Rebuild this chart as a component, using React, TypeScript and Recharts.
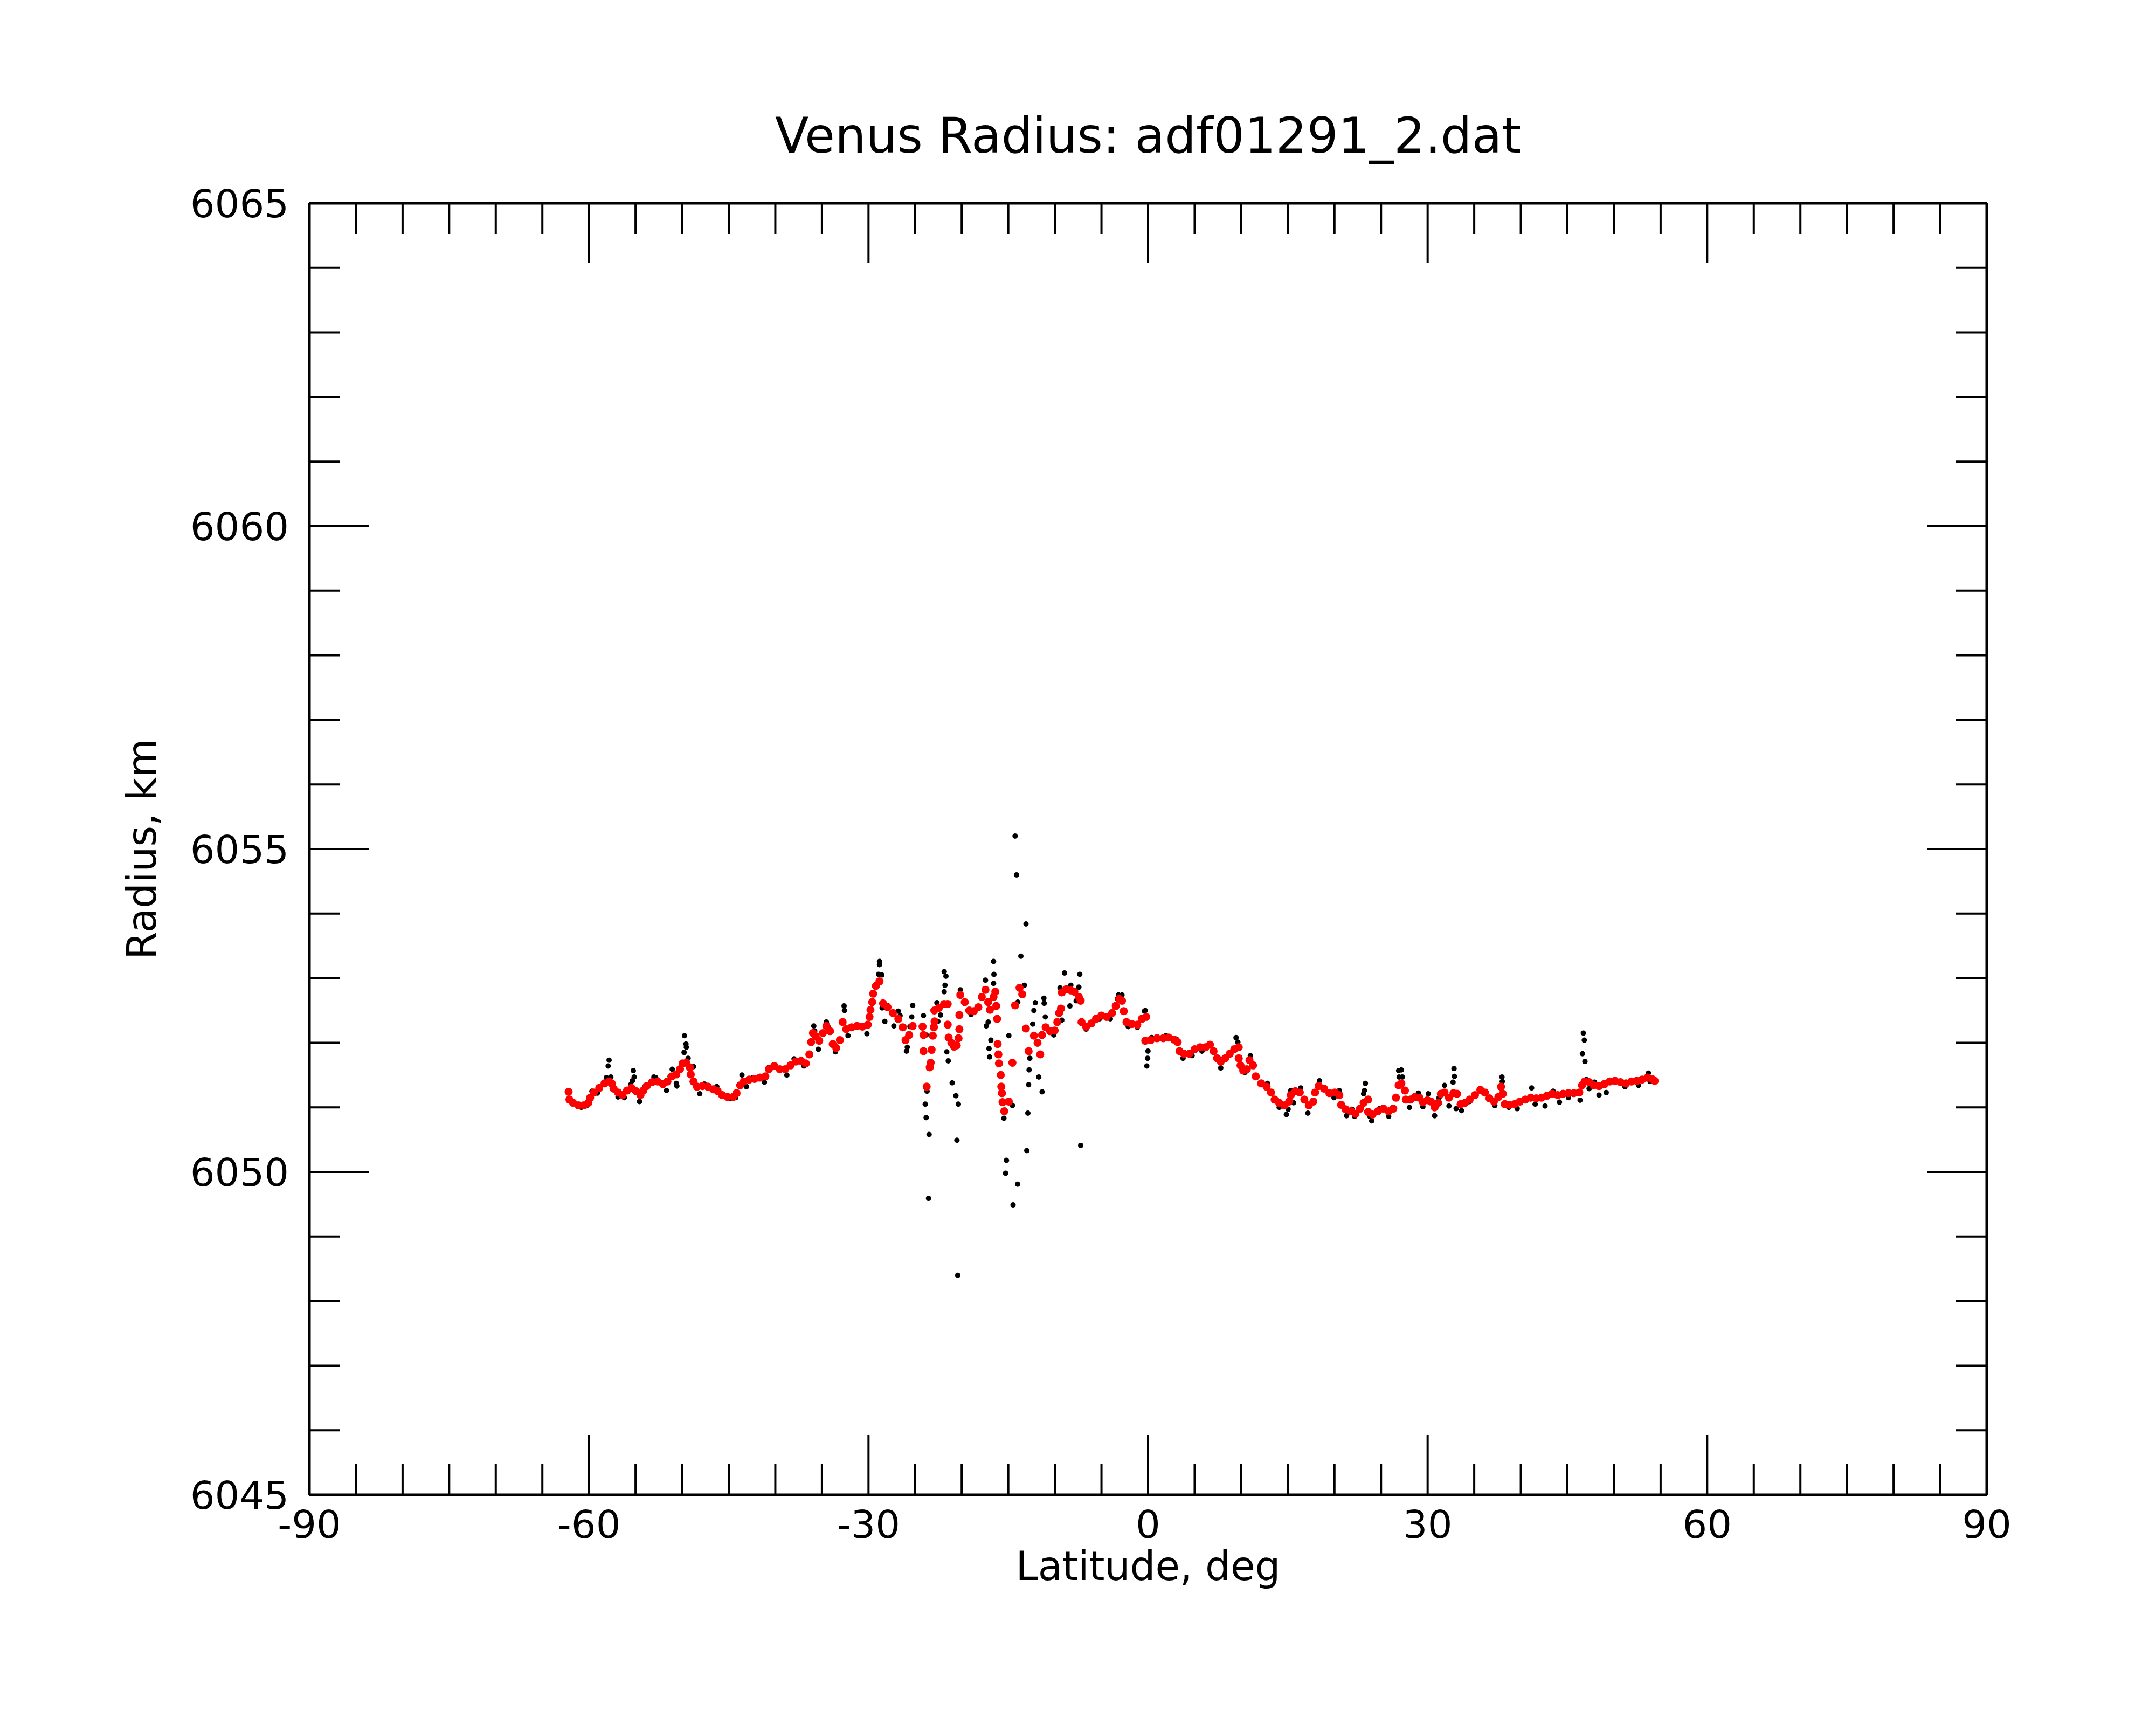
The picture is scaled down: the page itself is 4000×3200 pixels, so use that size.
import React from 'react';
import { ScatterChart, Scatter, XAxis, YAxis } from 'recharts';

// tick positions (every 5 deg / every 1 km; labels only on the majors)
const latTicks = [-90, -85, -80, -75, -70, -65, -60, -55, -50, -45, -40, -35, -30, -25, -20, -15, -10, -5, 0, 5, 10, 15, 20, 25, 30, 35, 40, 45, 50, 55, 60, 65, 70, 75, 80, 85, 90];
const radiusTicks = [6045, 6046, 6047, 6048, 6049, 6050, 6051, 6052, 6053, 6054, 6055, 6056, 6057, 6058, 6059, 6060, 6061, 6062, 6063, 6064, 6065];

// smoothed radius profile, [latitude, radius km]
const redProfile: [number, number][] = [
    [-62.18, 6051.24], [-62.09, 6051.12], [-61.7, 6051.07], [-61.12, 6051.03], [-60.54, 6051.03], [-60.06, 6051.07],
    [-59.87, 6051.15], [-59.48, 6051.23], [-58.9, 6051.3], [-58.33, 6051.37], [-57.84, 6051.4], [-57.56, 6051.37],
    [-57.36, 6051.29], [-56.88, 6051.23], [-56.4, 6051.19], [-55.92, 6051.26], [-55.43, 6051.3], [-54.95, 6051.25],
    [-54.47, 6051.19], [-54.18, 6051.26], [-53.8, 6051.33], [-53.22, 6051.39], [-52.64, 6051.4], [-52.06, 6051.36],
    [-51.58, 6051.4], [-51.1, 6051.48], [-50.62, 6051.51], [-50.23, 6051.59], [-49.94, 6051.68], [-49.55, 6051.69],
    [-49.17, 6051.62], [-49.07, 6051.51], [-48.78, 6051.4], [-48.4, 6051.32], [-47.82, 6051.33], [-47.24, 6051.32],
    [-46.66, 6051.28], [-46.18, 6051.25], [-45.7, 6051.19], [-45.12, 6051.16], [-44.54, 6051.16], [-44.16, 6051.22],
    [-43.77, 6051.34], [-43.39, 6051.4], [-42.81, 6051.43], [-42.23, 6051.44], [-41.65, 6051.46], [-41.07, 6051.48],
    [-40.69, 6051.59], [-40.11, 6051.64], [-39.53, 6051.59], [-38.95, 6051.59], [-38.37, 6051.65], [-37.8, 6051.71],
    [-37.22, 6051.72], [-36.73, 6051.68], [-36.35, 6051.82], [-36.16, 6052.01], [-35.96, 6052.15], [-35.67, 6052.1],
    [-35.29, 6052.03], [-34.9, 6052.15], [-34.52, 6052.26], [-34.13, 6052.18], [-33.84, 6051.98], [-33.46, 6051.92],
    [-33.07, 6052.04], [-32.78, 6052.32], [-32.39, 6052.21], [-31.81, 6052.24], [-31.23, 6052.26], [-30.66, 6052.25],
    [-30.08, 6052.28], [-29.89, 6052.4], [-29.79, 6052.51], [-29.6, 6052.63], [-29.5, 6052.76], [-29.21, 6052.88],
    [-28.82, 6052.95], [-28.44, 6052.61], [-27.96, 6052.55], [-27.38, 6052.46], [-26.8, 6052.37], [-26.32, 6052.24],
    [-26.03, 6052.04], [-25.64, 6052.12], [-25.26, 6052.26], [-24.2, 6052.25], [-24.1, 6052.12], [-24.1, 6051.87],
    [-23.76, 6051.32], [-23.43, 6051.62], [-23.33, 6051.69], [-23.23, 6051.89], [-23.1, 6052.11], [-22.98, 6052.24],
    [-22.91, 6052.33], [-22.94, 6052.5], [-22.46, 6052.54], [-21.89, 6052.6], [-21.5, 6052.6], [-21.5, 6052.28],
    [-21.4, 6052.08], [-21.11, 6052.0], [-20.82, 6051.94], [-20.53, 6051.96], [-20.34, 6052.07], [-20.25, 6052.21],
    [-20.25, 6052.43], [-20.15, 6052.74], [-19.67, 6052.63], [-19.19, 6052.5], [-18.7, 6052.49], [-18.22, 6052.55],
    [-17.84, 6052.71], [-17.45, 6052.82], [-17.16, 6052.63], [-16.97, 6052.51], [-16.58, 6052.71], [-16.39, 6052.79],
    [-16.29, 6052.57], [-16.2, 6052.37], [-16.14, 6051.98], [-16.06, 6051.82], [-16.0, 6051.68], [-15.81, 6051.5],
    [-15.75, 6051.32], [-15.68, 6051.22], [-15.62, 6051.08], [-15.43, 6050.94], [-14.94, 6051.09], [-14.56, 6051.69],
    [-14.27, 6052.58], [-13.79, 6052.85], [-13.5, 6052.75], [-13.11, 6052.22], [-12.82, 6051.87], [-12.25, 6052.11],
    [-11.86, 6052.0], [-11.57, 6051.82], [-11.38, 6052.12], [-10.99, 6052.24], [-10.51, 6052.18], [-10.03, 6052.19],
    [-9.74, 6052.32], [-9.55, 6052.46], [-9.35, 6052.53], [-9.26, 6052.78], [-8.78, 6052.83], [-8.29, 6052.81],
    [-7.91, 6052.79], [-7.43, 6052.71], [-7.23, 6052.65], [-7.14, 6052.32], [-6.65, 6052.25], [-6.08, 6052.3],
    [-5.59, 6052.37], [-5.01, 6052.42], [-4.44, 6052.4], [-3.86, 6052.46], [-3.47, 6052.57], [-3.09, 6052.68],
    [-2.8, 6052.65], [-2.61, 6052.49], [-2.32, 6052.32], [-1.74, 6052.29], [-1.16, 6052.28], [-0.68, 6052.37],
    [-0.2, 6052.4], [-0.3, 6052.03], [0.28, 6052.04], [0.96, 6052.07], [1.63, 6052.07], [2.21, 6052.08],
    [2.79, 6052.05], [3.17, 6052.01], [3.37, 6051.87], [3.85, 6051.83], [4.43, 6051.83], [5.0, 6051.9],
    [5.58, 6051.93], [6.16, 6051.93], [6.64, 6051.97], [7.03, 6051.87], [7.41, 6051.76], [7.8, 6051.71],
    [8.28, 6051.76], [8.76, 6051.83], [9.25, 6051.9], [9.73, 6051.93], [9.73, 6051.76], [9.92, 6051.65],
    [10.21, 6051.57], [10.6, 6051.59], [10.88, 6051.73], [11.27, 6051.65], [11.56, 6051.48], [12.14, 6051.37],
    [12.72, 6051.32], [13.2, 6051.23], [13.58, 6051.12], [14.07, 6051.07], [14.64, 6051.03], [15.13, 6051.09],
    [15.32, 6051.19], [15.8, 6051.25], [16.28, 6051.23], [16.77, 6051.12], [17.25, 6051.03], [17.73, 6051.09],
    [17.92, 6051.23], [18.31, 6051.33], [18.89, 6051.29], [19.46, 6051.22], [20.04, 6051.23], [20.52, 6051.19],
    [20.72, 6051.04], [21.2, 6050.97], [21.78, 6050.94], [22.26, 6050.9], [22.74, 6050.98], [23.13, 6051.07],
    [23.61, 6051.12], [23.61, 6050.93], [24.09, 6050.89], [24.67, 6050.94], [25.25, 6050.98], [25.82, 6050.94],
    [26.31, 6050.98], [26.6, 6051.15], [26.89, 6051.34], [27.18, 6051.37], [27.57, 6051.26], [27.66, 6051.12],
    [28.14, 6051.12], [28.63, 6051.16], [29.11, 6051.15], [29.49, 6051.08], [29.98, 6051.11], [30.36, 6051.09],
    [30.75, 6051.0], [31.13, 6051.07], [31.42, 6051.21], [31.81, 6051.23], [32.29, 6051.15], [32.77, 6051.22],
    [33.16, 6051.21], [33.54, 6051.05], [34.02, 6051.07], [34.51, 6051.12], [35.08, 6051.19], [35.66, 6051.27],
    [36.14, 6051.23], [36.63, 6051.14], [37.11, 6051.09], [37.59, 6051.16], [37.88, 6051.32], [38.07, 6051.21],
    [38.27, 6051.05], [38.75, 6051.04], [39.33, 6051.05], [39.9, 6051.09], [40.48, 6051.12], [41.06, 6051.15],
    [41.64, 6051.14], [42.22, 6051.15], [42.8, 6051.18], [43.37, 6051.21], [43.95, 6051.19], [44.53, 6051.21],
    [45.11, 6051.22], [45.69, 6051.22], [46.27, 6051.23], [46.56, 6051.34], [46.84, 6051.4], [47.33, 6051.39],
    [47.81, 6051.34], [48.39, 6051.33], [48.97, 6051.36], [49.54, 6051.4], [50.12, 6051.41], [50.7, 6051.39],
    [51.28, 6051.37], [51.86, 6051.4], [52.43, 6051.41], [53.01, 6051.43], [53.59, 6051.46], [54.07, 6051.44],
    [54.36, 6051.41],
];

// raw measurements that stick out from under the red profile
const blackRaw: [number, number][] = [
    [-60.83, 6051.0], [-60.25, 6051.03], [-59.68, 6051.25], [-59.1, 6051.22], [-58.13, 6051.46], [-57.94, 6051.64],
    [-57.84, 6051.73], [-57.65, 6051.47], [-56.88, 6051.16], [-56.21, 6051.15], [-55.53, 6051.35], [-55.34, 6051.41],
    [-55.15, 6051.47], [-55.24, 6051.57], [-54.57, 6051.09], [-53.99, 6051.32], [-53.03, 6051.47], [-52.83, 6051.46],
    [-51.68, 6051.26], [-51.29, 6051.48], [-51.06, 6051.59], [-50.62, 6051.37], [-50.56, 6051.33], [-49.75, 6052.11],
    [-49.59, 6051.98], [-49.55, 6051.93], [-49.79, 6051.85], [-49.36, 6051.76], [-48.78, 6051.63], [-48.11, 6051.21],
    [-47.63, 6051.36], [-46.28, 6051.32], [-45.7, 6051.18], [-44.83, 6051.14], [-44.25, 6051.15], [-43.58, 6051.5],
    [-43.1, 6051.32], [-42.42, 6051.46], [-41.65, 6051.47], [-41.17, 6051.39], [-40.69, 6051.62], [-40.11, 6051.65],
    [-38.76, 6051.5], [-37.99, 6051.75], [-36.93, 6051.64], [-35.87, 6052.26], [-35.77, 6052.18], [-35.38, 6051.9],
    [-34.52, 6052.32], [-34.32, 6052.24], [-33.55, 6051.86], [-32.62, 6052.57], [-32.58, 6052.5], [-32.2, 6052.11],
    [-30.17, 6052.14], [-28.82, 6053.26], [-28.82, 6053.21], [-28.92, 6053.06], [-28.57, 6053.05], [-28.25, 6052.33],
    [-28.54, 6052.54], [-27.96, 6052.58], [-27.28, 6052.26], [-26.8, 6052.49], [-26.61, 6052.42], [-25.93, 6051.87],
    [-25.84, 6051.93], [-25.55, 6052.25], [-25.36, 6052.4], [-25.26, 6052.58], [-24.1, 6052.42], [-23.81, 6052.12],
    [-23.91, 6051.05], [-23.81, 6050.84], [-23.72, 6051.25], [-23.56, 6049.59], [-23.5, 6050.58], [-20.42, 6048.4],
    [-20.51, 6050.49], [-20.36, 6051.05], [-20.62, 6051.18], [-21.02, 6051.38], [-21.88, 6053.1], [-21.69, 6053.03],
    [-21.79, 6052.89], [-21.88, 6052.79], [-22.66, 6052.62], [-22.27, 6052.43], [-22.56, 6052.33], [-21.6, 6051.86],
    [-21.44, 6051.72], [-20.15, 6052.82], [-19.0, 6052.44], [-17.45, 6052.97], [-16.58, 6053.26], [-16.54, 6053.06],
    [-16.58, 6052.92], [-17.16, 6052.32], [-17.36, 6052.26], [-16.87, 6052.04], [-17.07, 6051.91], [-17.01, 6051.78],
    [-15.2, 6050.18], [-15.29, 6049.98], [-14.0, 6049.81], [-14.49, 6049.49], [-13.01, 6050.33], [-12.9, 6050.91],
    [-11.37, 6051.24], [-11.73, 6051.47], [-7.23, 6050.41], [-14.27, 6055.2], [-14.11, 6054.6], [-13.1, 6053.84],
    [-13.65, 6053.34], [-13.27, 6052.89], [-13.98, 6052.63], [-14.94, 6052.11], [-14.56, 6051.03], [-15.47, 6050.83],
    [-12.82, 6051.35], [-12.77, 6051.58], [-12.69, 6051.76], [-12.38, 6052.29], [-12.25, 6052.5], [-12.1, 6052.62],
    [-11.18, 6052.69], [-11.15, 6052.61], [-11.03, 6052.4], [-8.97, 6053.08], [-7.33, 6053.06], [-7.43, 6052.86],
    [-8.39, 6052.57], [-9.26, 6052.35], [-10.12, 6052.12], [-9.45, 6052.85], [-8.29, 6052.89], [-7.72, 6052.65],
    [-6.65, 6052.21], [-5.21, 6052.37], [-4.05, 6052.37], [-3.18, 6052.74], [-3.28, 6052.68], [-2.8, 6052.74],
    [-2.13, 6052.25], [-1.16, 6052.24], [-0.39, 6052.49], [-0.3, 6052.5], [-0.01, 6051.87], [-0.05, 6051.76],
    [-0.14, 6051.64], [0.38, 6052.08], [1.92, 6052.11], [3.08, 6052.05], [3.75, 6051.76], [4.72, 6051.8],
    [5.78, 6051.87], [6.74, 6051.98], [7.8, 6051.61], [9.44, 6052.08], [9.63, 6052.01], [10.4, 6051.54],
    [10.98, 6051.8], [12.81, 6051.37], [14.07, 6051.0], [14.84, 6050.89], [15.03, 6050.97], [15.61, 6051.07],
    [15.32, 6051.26], [16.38, 6051.3], [17.15, 6050.91], [18.4, 6051.41], [19.95, 6051.15], [20.52, 6051.26],
    [21.3, 6050.87], [21.88, 6050.97], [22.16, 6050.86], [23.32, 6051.37], [23.22, 6051.26], [23.13, 6051.21],
    [24.0, 6050.79], [23.8, 6050.86], [24.86, 6050.98], [25.82, 6050.86], [26.89, 6051.57], [26.94, 6051.47],
    [27.18, 6051.58], [27.28, 6051.47], [28.05, 6051.0], [29.01, 6051.22], [29.49, 6051.01], [30.07, 6051.21],
    [30.75, 6050.87], [31.23, 6051.15], [31.81, 6051.34], [32.29, 6051.02], [32.83, 6051.6], [32.87, 6051.48],
    [32.73, 6051.39], [33.06, 6050.98], [33.64, 6050.95], [34.51, 6051.09], [35.66, 6051.29], [37.21, 6051.03],
    [37.98, 6051.47], [38.01, 6051.4], [38.71, 6051.0], [39.61, 6050.98], [41.16, 6051.3], [41.54, 6051.05],
    [42.6, 6051.02], [43.47, 6051.25], [44.15, 6051.08], [45.11, 6051.15], [46.36, 6051.11], [46.71, 6052.15],
    [46.81, 6052.04], [46.61, 6051.83], [46.88, 6051.71], [47.04, 6051.43], [47.33, 6051.29], [47.91, 6051.39],
    [48.39, 6051.19], [49.16, 6051.23], [50.12, 6051.41], [51.18, 6051.32], [52.63, 6051.34], [53.69, 6051.53],
    [53.88, 6051.4],
];

const FONT = "'DejaVu Sans', sans-serif";

const toRows = (pts: [number, number][]) => pts.map(([lat, r]) => ({ lat, r }));

const BottomTick = (props: any) => {
    const { x, y, payload } = props;
    const major = payload.value % 30 === 0;
    return (
        <g>
            <line x1={x} x2={x} y1={y} y2={y - (major ? 111 : 57)} stroke="#000" strokeWidth={4} />
            {major && (
                <text x={x} y={y + 80} textAnchor="middle" fontSize={72} fontFamily={FONT} fill="#000">
                    {payload.value}
                </text>
            )}
        </g>
    );
};

const TopTick = (props: any) => {
    const { x, y, payload } = props;
    const major = payload.value % 30 === 0;
    return <line x1={x} x2={x} y1={y} y2={y + (major ? 111 : 57)} stroke="#000" strokeWidth={4} />;
};

const LeftTick = (props: any) => {
    const { x, y, payload } = props;
    const major = payload.value % 5 === 0;
    return (
        <g>
            <line x1={x} x2={x + (major ? 111 : 57)} y1={y} y2={y} stroke="#000" strokeWidth={4} />
            {major && (
                <text x={x - 38} y={y + 26} textAnchor="end" fontSize={72} fontFamily={FONT} fill="#000">
                    {payload.value}
                </text>
            )}
        </g>
    );
};

const RightTick = (props: any) => {
    const { x, y, payload } = props;
    const major = payload.value % 5 === 0;
    return <line x1={x} x2={x - (major ? 111 : 57)} y1={y} y2={y} stroke="#000" strokeWidth={4} />;
};

const App = () => {
    const axisLine = { stroke: '#000', strokeWidth: 5 };
    return (
        <div style={{ position: 'absolute', top: 0, left: 0, width: 4000, height: 3200, background: '#fff' }}>
            <ScatterChart width={4000} height={3200} margin={{ top: 376, right: 313, bottom: 426, left: 573 }}>
                <XAxis
                    type="number" dataKey="lat" domain={[-90, 90]} ticks={latTicks} interval={0}
                    allowDataOverflow height={1} tickSize={0} tickMargin={0} tickLine={false}
                    axisLine={axisLine} tick={<BottomTick />}
                />
                <XAxis
                    xAxisId="top" orientation="top" type="number" dataKey="lat" domain={[-90, 90]} ticks={latTicks}
                    interval={0} allowDataOverflow height={1} tickSize={0} tickMargin={0} tickLine={false}
                    axisLine={axisLine} tick={<TopTick />}
                />
                <YAxis
                    type="number" dataKey="r" domain={[6045, 6065]} ticks={radiusTicks} interval={0}
                    allowDataOverflow width={1} tickSize={0} tickMargin={0} tickLine={false}
                    axisLine={axisLine} tick={<LeftTick />}
                />
                <YAxis
                    yAxisId="right" orientation="right" type="number" dataKey="r" domain={[6045, 6065]}
                    ticks={radiusTicks} interval={0} allowDataOverflow width={1} tickSize={0} tickMargin={0}
                    tickLine={false} axisLine={axisLine} tick={<RightTick />}
                />
                <Scatter
                    data={toRows(blackRaw)} isAnimationActive={false}
                    shape={(p: any) => <circle cx={p.cx} cy={p.cy} r={5} fill="#000" />}
                />
                <Scatter
                    data={toRows(redProfile)} isAnimationActive={false}
                    shape={(p: any) => <circle cx={p.cx} cy={p.cy} r={7.5} fill="#ff0000" />}
                />
            </ScatterChart>
            <svg width={4000} height={3200} style={{ position: 'absolute', top: 0, left: 0, pointerEvents: 'none' }}>
                <text x={2130} y={283} textAnchor="middle" fontSize={91} fontFamily={FONT} fill="#000">
                    Venus Radius: adf01291_2.dat
                </text>
                <text x={2130} y={2931} textAnchor="middle" fontSize={74} fontFamily={FONT} fill="#000">
                    Latitude, deg
                </text>
                <text
                    transform="translate(289,1575) rotate(-90)" textAnchor="middle" fontSize={74}
                    fontFamily={FONT} fill="#000"
                >
                    Radius, km
                </text>
            </svg>
        </div>
    );
};

export default App;
